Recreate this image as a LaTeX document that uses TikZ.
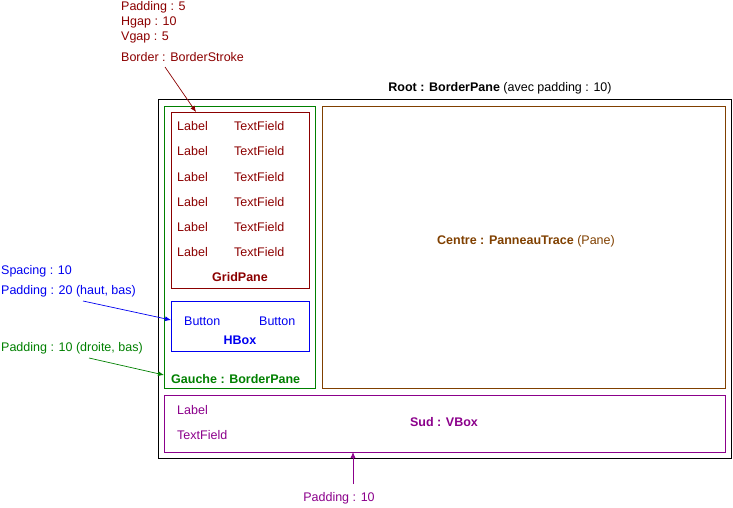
\documentclass[tikz,border=0pt]{standalone}
\usepackage{fontspec}
\setmainfont{Liberation Sans}
\usetikzlibrary{arrows.meta}
\definecolor{cred}{RGB}{139,0,0}
\definecolor{cgreen}{RGB}{0,128,0}
\definecolor{cblue}{RGB}{0,0,240}
\definecolor{cbrown}{RGB}{128,64,0}
\definecolor{cpurple}{RGB}{139,0,139}
\tikzset{
  pane/.style={draw, line width=0.9pt, inner sep=0pt},
  txt/.style={font=\fontsize{12.5}{14}\selectfont, inner sep=0pt},
  ltxt/.style={txt, anchor=west},
  ann/.style={-{Latex[length=6pt,width=5pt]}, line width=0.7pt}
}
\begin{document}
\begin{tikzpicture}[x=1pt,y=-1pt]
\useasboundingbox (0,0) rectangle (733,508);
% boxes
\draw[pane, black] (158,99) rectangle (731,458);
\draw[pane, cgreen] (164,106) rectangle (315,388);
\draw[pane, cred] (171,112) rectangle (309,288);
\draw[pane, cblue] (171,301) rectangle (309,351);
\draw[pane, cbrown] (322,106) rectangle (725,388);
\draw[pane, cpurple] (164,395) rectangle (725,452);
% root title
\node[txt] (root) at (500,88) {\textbf{Root : BorderPane} (avec padding : 10)};
% grid
\foreach \y [count=\i] in {126,151,177,202,227,252}{
  \node[ltxt, text=cred] (gl\i) at (177,\y) {Label};
  \node[ltxt, text=cred] (gt\i) at (234,\y) {TextField};
}
\node[txt, text=cred] (grid) at (240,277) {\textbf{GridPane}};
% hbox
\node[ltxt, text=cblue] (b1) at (184,321) {Button};
\node[ltxt, text=cblue] (b2) at (259,321) {Button};
\node[txt, text=cblue] (hbox) at (240,340) {\textbf{HBox}};
% gauche
\node[ltxt, text=cgreen] (gauche) at (171,379) {\textbf{Gauche : BorderPane}};
% centre
\node[txt, text=cbrown] (centre) at (526,241) {\textbf{Centre : PanneauTrace} (Pane)};
% sud
\node[ltxt, text=cpurple] (sl) at (177,410) {Label};
\node[ltxt, text=cpurple] (st) at (177,435) {TextField};
\node[txt, text=cpurple] (sud) at (444,422) {\textbf{Sud : VBox}};
% annotations grid
\node[ltxt, text=cred] (a1) at (121,7) {Padding : 5};
\node[ltxt, text=cred] (a2) at (121,22) {Hgap : 10};
\node[ltxt, text=cred] (a3) at (121,37) {Vgap : 5};
\node[ltxt, text=cred] (a4) at (121,57) {Border : BorderStroke};
\coordinate (a4s) at (165,67);
\coordinate (gridTL) at (196,112);
\draw[ann, cred] (a4s) -- (gridTL);
% annotations hbox
\node[ltxt, text=cblue] (h1) at (1,271) {Spacing : 10};
\node[ltxt, text=cblue] (h2) at (1,291) {Padding : 20 (haut, bas)};
\coordinate (h2s) at (83,301);
\coordinate (hboxL) at (171,320);
\draw[ann, cblue] (h2s) -- (hboxL);
% annotations gauche
\node[ltxt, text=cgreen] (g1) at (1,348) {Padding : 10 (droite, bas)};
\coordinate (g1s) at (89,358);
\coordinate (gaucheL) at (164,375);
\draw[ann, cgreen] (g1s) -- (gaucheL);
% annotations sud
\node[txt, text=cpurple] (p1) at (339,498) {Padding : 10};
\coordinate (p1s) at (353,484);
\coordinate (sudB) at (353,452);
\draw[ann, cpurple] (p1s) -- (sudB);
\end{tikzpicture}
\end{document}
